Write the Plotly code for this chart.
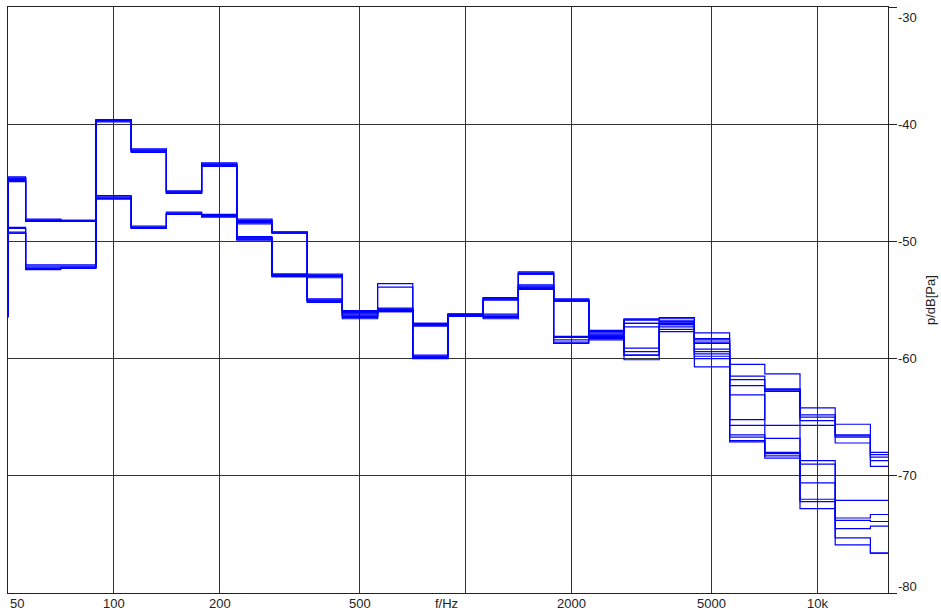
import math
import plotly.graph_objects as go

# Third-octave band centre frequencies (Hz)
band_centres = [40, 50, 63, 80, 100, 125, 160, 200, 250, 315, 400, 500, 630, 800,
                1000, 1250, 1600, 2000, 2500, 3150, 4000, 5000, 6300, 8000,
                10000, 12500, 16000]

# Band levels p / dB[Pa] for each measurement, one value per band above
mic_01 = [-54.0, -44.5, -48.1, -48.2, -39.6, -42.1, -45.7, -43.3, -49.6, -52.8, -54.9, -55.9, -55.7, -57.0,
          -56.2, -54.8, -53.7, -54.9, -57.6, -56.6, -56.5, -57.8, -60.5, -61.3, -64.2, -65.6, -68.0]
mic_02 = [-54.2, -44.6, -48.2, -48.3, -39.7, -42.2, -45.8, -43.4, -49.7, -52.9, -55.0, -56.0, -55.8, -57.1,
          -56.3, -54.9, -53.8, -55.0, -57.7, -56.7, -56.6, -58.3, -61.5, -62.6, -64.8, -66.5, -68.2]
mic_03 = [-53.9, -44.7, -48.2, -48.3, -39.7, -42.3, -45.8, -43.5, -49.8, -52.9, -55.1, -56.1, -55.9, -57.1,
          -56.3, -54.9, -53.9, -55.0, -57.9, -56.7, -56.8, -58.6, -61.8, -62.7, -65.0, -66.6, -68.4]
mic_04 = [-54.1, -44.6, -48.3, -48.2, -39.8, -42.4, -45.9, -43.6, -49.9, -53.0, -55.2, -56.2, -56.0, -57.2,
          -56.4, -55.0, -54.0, -55.1, -58.0, -57.0, -56.9, -58.7, -62.3, -62.8, -65.3, -66.7, -68.7]
mic_05 = [-54.3, -44.8, -48.3, -48.3, -39.6, -42.2, -45.7, -43.4, -49.7, -52.8, -55.0, -56.0, -55.8, -57.0,
          -56.2, -54.8, -54.1, -55.0, -58.2, -57.3, -57.1, -59.2, -63.1, -65.7, -65.7, -67.2, -69.2]
mic_06 = [-54.0, -44.9, -48.2, -48.3, -39.7, -42.3, -45.9, -43.5, -49.8, -53.0, -55.1, -56.1, -55.9, -57.2,
          -56.4, -55.0, -53.9, -55.1, -57.8, -57.0, -56.8, -58.4, -65.2, -62.6, -68.7, -72.1, -72.1]
mic_07 = [-56.3, -48.8, -52.0, -52.0, -46.1, -48.7, -47.5, -47.7, -48.1, -49.2, -52.8, -56.3, -53.6, -59.7,
          -56.2, -56.2, -52.6, -58.1, -58.0, -59.1, -57.0, -59.4, -65.7, -66.8, -69.0, -73.6, -73.3]
mic_08 = [-56.4, -48.9, -52.1, -52.1, -46.2, -48.8, -47.6, -47.8, -48.2, -49.2, -52.9, -56.4, -53.9, -59.8,
          -56.3, -56.3, -52.7, -58.2, -58.1, -59.4, -57.1, -59.6, -66.5, -68.0, -70.6, -73.8, -73.9]
mic_09 = [-56.5, -49.2, -52.2, -52.2, -46.3, -48.8, -47.6, -47.8, -48.4, -49.3, -53.0, -56.5, -55.8, -59.9,
          -56.4, -56.4, -52.7, -58.4, -58.2, -59.7, -57.3, -59.8, -66.7, -68.1, -72.0, -74.5, -74.3]
mic_10 = [-56.2, -49.3, -52.4, -52.3, -46.4, -48.9, -47.7, -47.9, -48.5, -49.3, -53.1, -56.6, -55.9, -60.0,
          -56.3, -56.5, -52.8, -58.6, -58.3, -59.7, -57.5, -60.0, -67.0, -68.3, -72.2, -75.3, -76.6]
mic_11 = [-56.5, -49.3, -52.3, -52.2, -46.3, -48.9, -47.7, -47.9, -48.3, -49.2, -52.9, -56.4, -56.0, -59.8,
          -56.4, -56.6, -52.8, -58.7, -58.4, -60.1, -57.7, -60.7, -67.1, -68.5, -72.8, -75.9, -76.6]

series = [mic_01, mic_02, mic_03, mic_04, mic_05, mic_06, mic_07, mic_08, mic_09, mic_10, mic_11]

# Axis ticks and labels
x_tick_vals = [50, 100, 200, 500, 1000, 2000, 5000, 10000]
x_tick_text = ["50", "100", "200", "500", "", "2000", "5000", "10k"]
y_tick_vals = [-30, -40, -50, -60, -70, -80]
x_title = "f/Hz"
y_title = "p/dB[Pa]"

# Plot spans from the 50 Hz band centre to the 16 kHz band centre
x_lo_log, x_hi_log = 1.7, 4.2
x_lo, x_hi = 10 ** x_lo_log, 10 ** x_hi_log


def band_edges(fc):
    n = round(10 * math.log10(fc))
    return 10 ** ((n - 0.5) / 10), 10 ** ((n + 0.5) / 10)


def step_path(levels):
    xs, ys = [], []
    for fc, v in zip(band_centres, levels):
        lo, hi = band_edges(fc)
        lo = min(max(lo, x_lo), x_hi)
        hi = min(max(hi, x_lo), x_hi)
        xs += [lo, hi]
        ys += [v, v]
    return xs, ys


fig = go.Figure()
for levels in series:
    xs, ys = step_path(levels)
    fig.add_trace(go.Scatter(x=xs, y=ys, mode="lines",
                             line=dict(color="#0000ff", width=1.2),
                             showlegend=False, hoverinfo="skip"))

grid_col = "#333333"
text_col = "#222222"
font_family = "Liberation Sans, Arial, sans-serif"

fig.update_xaxes(type="log", range=[x_lo_log, x_hi_log],
                 tickvals=x_tick_vals, showticklabels=False,
                 showgrid=True, gridcolor=grid_col, gridwidth=1,
                 showline=True, linecolor="#222222", linewidth=1, mirror=True,
                 ticks="", zeroline=False, layer="below traces")
fig.update_yaxes(range=[-80, -30], side="right",
                 tickvals=y_tick_vals, showticklabels=False,
                 showgrid=True, gridcolor=grid_col, gridwidth=1,
                 showline=True, linecolor="#222222", linewidth=1, mirror=True,
                 ticks="outside", ticklen=8, tickcolor="#222222", tickwidth=1,
                 zeroline=False, layer="below traces")

annotations = []
for v, t in zip(x_tick_vals, x_tick_text):
    if not t:
        continue
    first = v == x_tick_vals[0]
    annotations.append(dict(x=max(math.log10(v), x_lo_log), y=0, xref="x", yref="paper",
                            text=t, showarrow=False,
                            xanchor="left" if first else "center",
                            yanchor="top", yshift=-1,
                            font=dict(size=13, color=text_col, family=font_family)))
annotations.append(dict(x=2.946, y=0, xref="x", yref="paper", text=x_title,
                        showarrow=False, xanchor="center", yanchor="top", yshift=-1,
                        font=dict(size=13, color=text_col, family=font_family)))
for v in y_tick_vals:
    shift = -10 if v == max(y_tick_vals) else (7 if v == min(y_tick_vals) else 0)
    annotations.append(dict(x=1, y=v, xref="paper", yref="y", text=str(v),
                            showarrow=False, xanchor="left", yanchor="middle",
                            xshift=8, yshift=shift,
                            font=dict(size=13, color=text_col, family=font_family)))
annotations.append(dict(x=1, y=0.5, xref="paper", yref="paper", text=y_title,
                        showarrow=False, textangle=-90, xanchor="center",
                        yanchor="middle", xshift=42,
                        font=dict(size=13, color=text_col, family=font_family)))

fig.update_layout(width=941, height=614,
                  margin=dict(l=8, r=53, t=7, b=21, pad=0),
                  paper_bgcolor="white", plot_bgcolor="white",
                  annotations=annotations,
                  font=dict(family=font_family))

fig.write_html("out.html")
